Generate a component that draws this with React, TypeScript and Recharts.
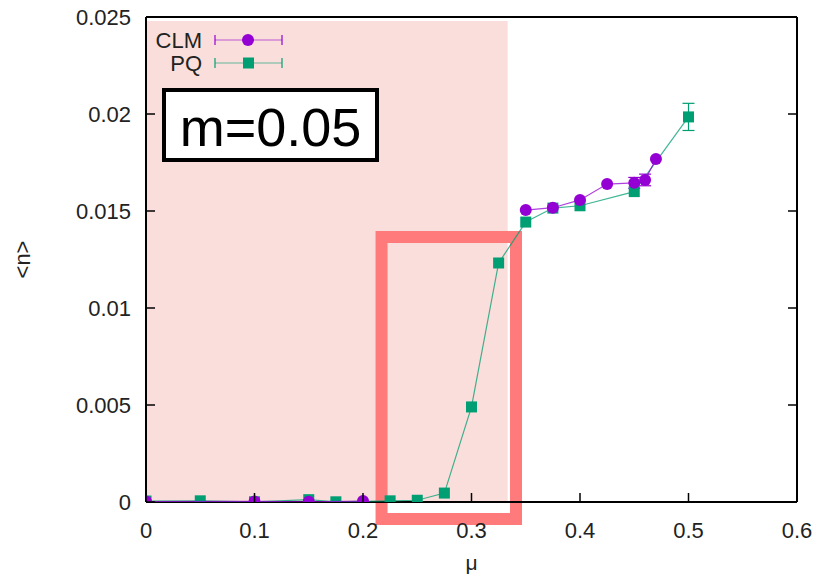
import React from 'react';
import { ScatterChart, Scatter, XAxis, YAxis, ErrorBar, ReferenceArea } from 'recharts';

// chemical potential mu and density <n> for the two methods
const pqMu = [0, 0.05, 0.1, 0.15, 0.175, 0.225, 0.25, 0.275, 0.3, 0.325, 0.35, 0.375, 0.4, 0.45, 0.5];
const pqN = [0.00005, 0.00006, 0.00001, 0.00012, 0.00001, 0.00006, 0.00009, 0.00046, 0.0049, 0.01232, 0.01443, 0.01515, 0.01527, 0.016, 0.01985];
const pqErr = [0, 0, 0, 0, 0, 0, 0, 0, 0, 0, 0, 0, 0, 0, 0.0007];

const clmMu = [0, 0.1, 0.15, 0.2, 0.35, 0.375, 0.4, 0.425, 0.45, 0.46, 0.47];
const clmN = [0.00002, 0.00003, 0.00001, 0.00005, 0.01505, 0.01517, 0.01557, 0.01639, 0.01645, 0.0166, 0.01768];
const clmErr = [0, 0, 0, 0, 0, 0, 0, 0, 0.00028, 0.0003, 0];
const clmGapAfter = 0.2; // CLM data has no points between 0.2 and 0.35

const xTicks = [0, 0.1, 0.2, 0.3, 0.4, 0.5, 0.6];
const yTicks = [0, 0.005, 0.01, 0.015, 0.02, 0.025];

const shadedMu: [number, number] = [0, 1 / 3];
const highlightMu: [number, number] = [0.2171, 0.341];
const highlightN: [number, number] = [-0.00088, 0.01366];

const CLM_COLOR = '#9400d3';
const PQ_COLOR = '#009e73';
const FONT = '"Liberation Sans", Arial, Helvetica, sans-serif';

const pqData = pqMu.map((mu, i) => ({ mu, n: pqN[i], err: pqErr[i] }));
const clmAll = clmMu.map((mu, i) => ({ mu, n: clmN[i], err: clmErr[i] }));
const clmLow = clmAll.filter(d => d.mu <= clmGapAfter);
const clmHigh = clmAll.filter(d => d.mu > clmGapAfter);

const BottomTick = ({ x, y, payload }: any) => (
  <g>
    <line x1={x} y1={y} x2={x} y2={y - 9} stroke="#000" strokeWidth={1.5} />
    <text x={x} y={y + 36} textAnchor="middle" fontSize={22} fill="#222" fontFamily={FONT}>{String(payload.value)}</text>
  </g>
);
const TopTick = ({ x, y }: any) => <line x1={x} y1={y} x2={x} y2={y + 9} stroke="#000" strokeWidth={1.5} />;
const LeftTick = ({ x, y, payload }: any) => (
  <g>
    <line x1={x} y1={y} x2={x + 9} y2={y} stroke="#000" strokeWidth={1.5} />
    <text x={x - 15} y={y + 8} textAnchor="end" fontSize={22} fill="#222" fontFamily={FONT}>{String(payload.value)}</text>
  </g>
);
const RightTick = ({ x, y }: any) => <line x1={x} y1={y} x2={x - 9} y2={y} stroke="#000" strokeWidth={1.5} />;

const Dot = (p: any) => <circle cx={p.cx} cy={p.cy} r={6} fill={CLM_COLOR} />;
const Box = (p: any) => <rect x={p.cx - 5.5} y={p.cy - 5.5} width={11} height={11} fill={PQ_COLOR} />;

const LegendGlyph = ({ y, color, square }: { y: number; color: string; square?: boolean }) => (
  <g stroke={color} strokeWidth={1.2}>
    <line x1={65} y1={y} x2={132} y2={y} strokeOpacity={0.6} />
    <line x1={65} y1={y - 5} x2={65} y2={y + 5} />
    <line x1={132} y1={y - 5} x2={132} y2={y + 5} />
    {square
      ? <rect x={93} y={y - 5.5} width={11} height={11} fill={color} stroke="none" />
      : <circle cx={98} cy={y} r={6} fill={color} stroke="none" />}
  </g>
);

export default function App() {
  return (
    <div style={{ position: 'absolute', left: 0, top: 0, width: 831, height: 579, background: '#fff', fontFamily: FONT }}>
      <ScatterChart width={831} height={579} margin={{ top: 16, right: 33, bottom: 0, left: 0 }}>
        <XAxis
          type="number" dataKey="mu" domain={[0, 0.6]} ticks={xTicks} interval={0}
          height={77} tickSize={0} tickMargin={0} tickLine={false} tick={<BottomTick />}
          axisLine={{ stroke: '#000', strokeWidth: 2 }}
          label={{ value: 'μ', position: 'insideBottom', offset: 9, fontSize: 21, fill: '#222', fontFamily: FONT }}
          allowDataOverflow
        />
        <XAxis
          xAxisId="top" orientation="top" type="number" domain={[0, 0.6]} ticks={xTicks} interval={0}
          height={1} tickSize={0} tickMargin={0} tickLine={false} tick={<TopTick />}
          axisLine={{ stroke: '#000', strokeWidth: 2 }} allowDataOverflow
        />
        <YAxis
          type="number" dataKey="n" domain={[0, 0.025]} ticks={yTicks} interval={0}
          width={146} tickSize={0} tickMargin={0} tickLine={false} tick={<LeftTick />}
          axisLine={{ stroke: '#000', strokeWidth: 2 }}
          label={{ value: '<n>', angle: -90, position: 'insideLeft', offset: 22, fontSize: 22, fill: '#222', fontFamily: FONT, style: { textAnchor: 'middle' } }}
          allowDataOverflow
        />
        <YAxis
          yAxisId="right" orientation="right" type="number" domain={[0, 0.025]} ticks={yTicks} interval={0}
          width={1} tickSize={0} tickMargin={0} tickLine={false} tick={<RightTick />}
          axisLine={{ stroke: '#000', strokeWidth: 2 }} allowDataOverflow
        />
        <ReferenceArea x1={shadedMu[0]} x2={shadedMu[1]} y1={0} y2={0.0248} fill="#fadedb" fillOpacity={1} stroke="none" ifOverflow="visible" />
        <Scatter name="PQ" data={pqData} dataKey="n" shape={<Box />} line={{ stroke: PQ_COLOR, strokeWidth: 1.2, strokeOpacity: 0.75 }} isAnimationActive={false}>
          <ErrorBar dataKey="err" direction="y" width={6} stroke={PQ_COLOR} strokeWidth={1.2} isAnimationActive={false} />
        </Scatter>
        <Scatter name="CLM" data={clmLow} dataKey="n" shape={<Dot />} line={{ stroke: CLM_COLOR, strokeWidth: 1.2, strokeOpacity: 0.75 }} isAnimationActive={false} />
        <Scatter name="CLM" data={clmHigh} dataKey="n" shape={<Dot />} line={{ stroke: CLM_COLOR, strokeWidth: 1.2, strokeOpacity: 0.75 }} isAnimationActive={false}>
          <ErrorBar dataKey="err" direction="y" width={6} stroke={CLM_COLOR} strokeWidth={1.2} isAnimationActive={false} />
        </Scatter>
        <ReferenceArea x1={highlightMu[0]} x2={highlightMu[1]} y1={highlightN[0]} y2={highlightN[1]} fill="none" stroke="#ff7b7b" strokeWidth={12} ifOverflow="visible" />
      </ScatterChart>

      <svg style={{ position: 'absolute', left: 150, top: 28 }} width={150} height={50}>
        <text x={52} y={20} textAnchor="end" fontSize={22} fill="#222" fontFamily={FONT}>CLM</text>
        <LegendGlyph y={12} color={CLM_COLOR} />
        <text x={52} y={43} textAnchor="end" fontSize={22} fill="#222" fontFamily={FONT}>PQ</text>
        <LegendGlyph y={35} color={PQ_COLOR} square />
      </svg>

      <div style={{ position: 'absolute', left: 162, top: 88, width: 217, height: 74, boxSizing: 'border-box', border: '4px solid #000', background: '#fff', fontSize: 54, lineHeight: '70px', textAlign: 'center', color: '#000' }}>
        m=0.05
      </div>
    </div>
  );
}
